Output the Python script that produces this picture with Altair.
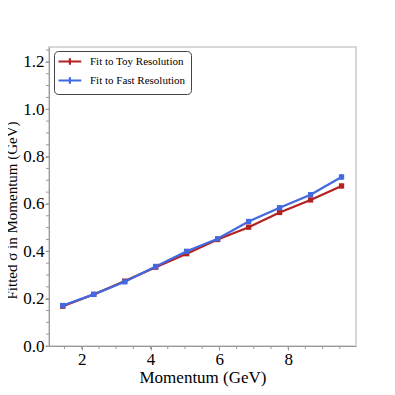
import altair as alt
import pandas as pd

momentum = [1.45, 2.35, 3.25, 4.15, 5.05, 5.95, 6.85, 7.75, 8.65, 9.55]
toy_sigma = [0.168, 0.218, 0.274, 0.333, 0.390, 0.450, 0.502, 0.564, 0.617, 0.676]
toy_err = [0.004, 0.004, 0.005, 0.005, 0.006, 0.006, 0.007, 0.008, 0.009, 0.010]
fast_sigma = [0.171, 0.218, 0.271, 0.336, 0.400, 0.453, 0.526, 0.584, 0.639, 0.714]
fast_err = [0.004, 0.004, 0.005, 0.005, 0.006, 0.006, 0.008, 0.009, 0.010, 0.012]
series = ["Fit to Toy Resolution", "Fit to Fast Resolution"]
colors = ["#b22222", "#4169e1"]
x_ticks = [2, 4, 6, 8]
y_ticks = [0, 0.2, 0.4, 0.6, 0.8, 1.0, 1.2]
x_minor = [1.5 + 0.5 * i for i in range(17)]
y_minor = [round(0.05 * i, 2) for i in range(26)]

rows = []
for name, vals, errs in [(series[0], toy_sigma, toy_err), (series[1], fast_sigma, fast_err)]:
    for m, v, e in zip(momentum, vals, errs):
        rows.append({"p": m, "s": v, "lo": v - e, "hi": v + e, "series": name})
df = pd.DataFrame(rows)

FONT = "Liberation Serif"
xs = alt.Scale(domain=[1.05, 9.97], nice=False, zero=False)
ys = alt.Scale(domain=[0, 1.263], nice=False)
cscale = alt.Scale(domain=series, range=colors)
col = alt.Color("series:N", scale=cscale,
                legend=alt.Legend(title=None, orient="none", legendX=5, legendY=4,
                                  symbolType="M-1.5,0H4.2M1.35,-0.8V0.8", symbolSize=64,
                                  symbolStrokeWidth=2.2, labelFont=FONT, labelFontSize=11,
                                  labelColor="#000", strokeColor="#444", fillColor="white",
                                  cornerRadius=4, padding=5, rowPadding=2, labelOffset=20,
                                  offset=0))

XT = "Momentum (GeV)"
YT = "Fitted σ in Momentum (GeV)"
xa = alt.Axis(values=x_ticks, format="d", grid=False, titlePadding=2, labelPadding=1)
ya = alt.Axis(values=y_ticks, format=".1f", grid=False, labelPadding=1,
              titleX=-37.5, titleY=163, titleBaseline="middle", titleAngle=270,
              titleFontSize=15)

base = alt.Chart(df)
x = alt.X("p:Q", scale=xs, title=XT, axis=xa)
y = alt.Y("s:Q", scale=ys, title=YT, axis=ya)

lines = base.mark_line(strokeWidth=2.2).encode(x=x, y=y, color=col, order="p:Q")
pts = base.mark_square(size=28, opacity=1).encode(x=x, y=y, color=alt.Color("series:N", legend=None, scale=cscale))
errs = base.mark_rule(strokeWidth=2).encode(
    x=x, y=alt.Y("lo:Q", scale=ys, title=YT, axis=ya), y2="hi:Q",
    color=alt.Color("series:N", legend=None, scale=cscale))

mx = alt.Chart(pd.DataFrame({"v": x_minor})).mark_rule(color="#999", strokeWidth=1).encode(
    x=alt.X("v:Q", scale=xs, title=XT, axis=xa), y=alt.value(299), y2=alt.value(302))
my = alt.Chart(pd.DataFrame({"v": y_minor})).mark_rule(color="#999", strokeWidth=1).encode(
    y=alt.Y("v:Q", scale=ys, title=YT, axis=ya), x=alt.value(0), x2=alt.value(-3))

chart = alt.layer(lines, errs, pts, mx, my).properties(
    width=307, height=299,
    padding={"left": 41, "top": 39, "right": 30, "bottom": 48},
    autosize=alt.AutoSizeParams(type="none"),
).configure(
    font=FONT,
).configure_axis(
    labelFont=FONT, titleFont=FONT, labelFontSize=17, titleFontSize=17,
    labelColor="#000", titleColor="#000", titleFontWeight="normal",
    domainColor="#999", tickColor="#999", tickSize=4,
).configure_view(
    stroke="#cccccc", strokeWidth=1.5
).configure_legend(labelLimit=300, labelFont=FONT, labelFontSize=11)

chart.save("out.html", embed_options={"renderer": "svg", "actions": False})
